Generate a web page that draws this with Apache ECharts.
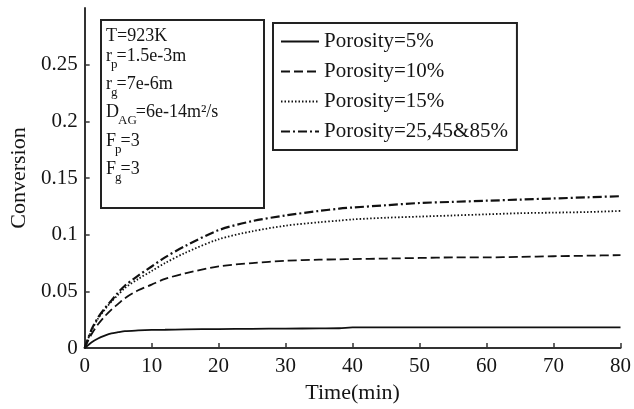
<!DOCTYPE html>
<html>
<head>
<meta charset="utf-8">
<script src="https://cdn.jsdelivr.net/npm/echarts@6/dist/echarts.min.js"></script>
<style>
  html, body { margin: 0; padding: 0; background: #fff; }
  #chart { width: 634px; height: 409px; }
</style>
</head>
<body>
<div id="chart"></div>
<script>
// Time axis (min)
const time = [0, 1, 2, 3, 4, 5, 6, 8, 10, 12, 15, 20, 25, 30, 35, 38, 40, 45, 50, 55, 60, 65, 70, 75, 80];

// Conversion for each porosity
const porosity5 = [0, 0.005, 0.0085, 0.011, 0.013, 0.014, 0.015, 0.0156, 0.016, 0.0162, 0.0165, 0.0168, 0.017, 0.0172, 0.0174, 0.0175, 0.0183, 0.0183, 0.0183, 0.0183, 0.0183, 0.0183, 0.0183, 0.0183, 0.0183];
const porosity10 = [0, 0.012, 0.021, 0.028, 0.034, 0.039, 0.044, 0.051, 0.056, 0.061, 0.066, 0.072, 0.075, 0.077, 0.078, 0.0783, 0.0785, 0.079, 0.0795, 0.080, 0.080, 0.0805, 0.081, 0.0815, 0.082];
const porosity15 = [0, 0.015, 0.026, 0.034, 0.041, 0.047, 0.053, 0.061, 0.068, 0.075, 0.084, 0.096, 0.103, 0.108, 0.111, 0.1125, 0.1135, 0.115, 0.116, 0.117, 0.118, 0.119, 0.1195, 0.120, 0.121];
const porosity25 = [0, 0.016, 0.027, 0.035, 0.042, 0.049, 0.055, 0.064, 0.072, 0.080, 0.090, 0.104, 0.112, 0.117, 0.121, 0.123, 0.124, 0.126, 0.128, 0.129, 0.130, 0.131, 0.132, 0.133, 0.134];

const seriesNames = ['Porosity=5%', 'Porosity=10%', 'Porosity=15%', 'Porosity=25,45&85%'];
const xTicks = { min: 0, max: 80, step: 10 };
const yTicks = { min: 0, max: 0.3, step: 0.05 };

// Simulation parameters shown in the annotation box: [main text, subscript, rest]
const paramLines = [
  ['T=923K', '', ''],
  ['r', 'p', '=1.5e-3m'],
  ['r', 'g', '=7e-6m'],
  ['D', 'AG', '=6e-14m²/s'],
  ['F', 'p', '=3'],
  ['F', 'g', '=3']
];

const FONT = '"Liberation Serif", "Times New Roman", serif';
const INK = '#151515';
const MAIN_SIZE = 18;
const SUB_SIZE = 13;

function pairs(ys) { return time.map((t, i) => [t, ys[i]]); }

const lineStyles = [
  { type: 'solid' },
  { type: [9, 4] },
  { type: [1.5, 2] },
  { type: [9, 3, 2, 3] }
];
const dataSets = [porosity5, porosity10, porosity15, porosity25];

// Text measuring for laying out subscripts
const measureCtx = document.createElement('canvas').getContext('2d');
function textWidth(str, size) {
  measureCtx.font = size + 'px ' + FONT;
  return measureCtx.measureText(str).width;
}

const paramTops = [27, 47, 75, 103, 132, 160];
const boxTextLeft = 106;

function paramGraphics() {
  const out = [];
  paramLines.forEach((parts, i) => {
    const top = paramTops[i];
    let x = boxTextLeft;
    const [mainText, sub, rest] = parts;
    out.push({ type: 'text', x: x, y: top, z: 11,
      style: { text: mainText, font: MAIN_SIZE + 'px ' + FONT, fill: INK, verticalAlign: 'top' } });
    x += textWidth(mainText, MAIN_SIZE);
    if (sub) {
      const subX = x - 1;
      out.push({ type: 'text', x: subX, y: top + 11, z: 11,
        style: { text: sub, font: SUB_SIZE + 'px ' + FONT, fill: INK, verticalAlign: 'top' } });
      x = Math.max(x, subX + textWidth(sub, SUB_SIZE) - 1);
    }
    if (rest) {
      out.push({ type: 'text', x: x, y: top, z: 11,
        style: { text: rest, font: MAIN_SIZE + 'px ' + FONT, fill: INK, verticalAlign: 'top' } });
    }
  });
  return out;
}

const chart = echarts.init(document.getElementById('chart'), null, { renderer: 'canvas' });
chart.setOption({
  animation: false,
  backgroundColor: '#fff',
  textStyle: { fontFamily: FONT, color: INK },
  grid: { left: 79, right: 12, top: 8, bottom: 58, containLabel: false },
  xAxis: {
    type: 'value',
    min: xTicks.min, max: xTicks.max, interval: xTicks.step,
    name: 'Time(min)', nameLocation: 'middle', nameGap: 33,
    nameTextStyle: { fontFamily: FONT, fontSize: 22, color: INK },
    axisLine: { lineStyle: { color: '#333', width: 2 } },
    axisTick: { inside: true, length: 5, lineStyle: { color: '#333', width: 1.5 } },
    axisLabel: { fontFamily: FONT, fontSize: 21, color: INK, margin: 8 },
    splitLine: { show: false }
  },
  yAxis: {
    type: 'value',
    min: yTicks.min, max: yTicks.max, interval: yTicks.step,
    name: 'Conversion', nameLocation: 'middle', nameGap: 48,
    nameTextStyle: { fontFamily: FONT, fontSize: 22, color: INK },
    axisLine: { show: true, lineStyle: { color: '#333', width: 2 } },
    axisTick: { inside: true, length: 5, lineStyle: { color: '#333', width: 1.5 } },
    axisLabel: {
      fontFamily: FONT, fontSize: 21, color: INK, margin: 7, showMaxLabel: false,
      formatter: v => (Math.abs(v - yTicks.max) < 1e-9 ? '' : String(+v.toFixed(2)))
    },
    splitLine: { show: false }
  },
  legend: {
    orient: 'vertical',
    left: 273, top: 23,
    data: seriesNames,
    itemWidth: 38, itemHeight: 12, itemGap: 9,
    padding: [8, 9, 8, 7],
    borderColor: '#222', borderWidth: 2,
    itemStyle: { color: 'rgba(0,0,0,0)', borderWidth: 0, opacity: 0 },
    textStyle: { fontFamily: FONT, fontSize: 21, color: INK }
  },
  graphic: [
    {
      type: 'rect', left: 100, top: 19, z: 10,
      shape: { width: 163, height: 188 },
      style: { fill: '#fff', stroke: '#222', lineWidth: 2 }
    }
  ].concat(paramGraphics()),
  series: dataSets.map((d, i) => ({
    name: seriesNames[i],
    type: 'line',
    data: pairs(d),
    showSymbol: false,
    symbol: 'none',
    smooth: 0.3,
    lineStyle: Object.assign({ color: '#111', width: i === 3 ? 2.2 : 1.8 }, lineStyles[i]),
    itemStyle: { color: '#111' }
  }))
});
</script>
</body>
</html>
